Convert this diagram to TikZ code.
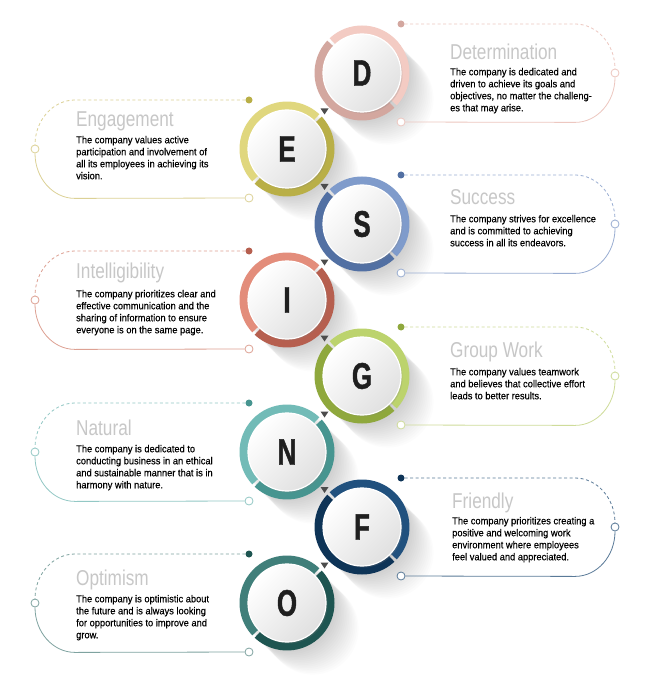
\documentclass[tikz,border=0pt]{standalone}
\usepackage{fontspec}
\setmainfont{Liberation Sans}
\newfontfamily\titlefont[FakeStretch=0.8]{Liberation Sans}
\newfontfamily\bodyfont[FakeStretch=0.93,FakeBold=0.4]{Liberation Sans}
\newfontfamily\letterfont[FakeStretch=0.7,FakeBold=1.2]{Liberation Sans}
\usepackage{xcolor}
\usepackage{tikz}
\usetikzlibrary{calc,positioning,shadows}

\definecolor{dLight}{HTML}{F3CBC3}\definecolor{dDark}{HTML}{D3A79F}\definecolor{dLine}{HTML}{EDC7C0}
\definecolor{eLight}{HTML}{E0D77E}\definecolor{eDark}{HTML}{B9AF47}\definecolor{eLine}{HTML}{DCD196}
\definecolor{sLight}{HTML}{7F9BCB}\definecolor{sDark}{HTML}{5270A3}\definecolor{sLine}{HTML}{9AAED2}
\definecolor{iLight}{HTML}{E38D7B}\definecolor{iDark}{HTML}{B65F4F}\definecolor{iLine}{HTML}{DDA193}
\definecolor{gLight}{HTML}{BCD36D}\definecolor{gDark}{HTML}{8FA83D}\definecolor{gLine}{HTML}{CFDC9A}
\definecolor{nLight}{HTML}{72BBB7}\definecolor{nDark}{HTML}{479590}\definecolor{nLine}{HTML}{93C8C5}
\definecolor{fLight}{HTML}{21517E}\definecolor{fDark}{HTML}{0E3457}\definecolor{fLine}{HTML}{5A7A98}
\definecolor{oLight}{HTML}{407F7A}\definecolor{oDark}{HTML}{1E5551}\definecolor{oLine}{HTML}{7FA3A0}

\begin{document}
\begin{tikzpicture}[x=1pt,y=1pt,
  letter/.style={circle,minimum size=78pt,inner sep=0pt,draw=white,line width=1.2pt,
    top color=white,bottom color=black!12,shading angle=45,
    drop shadow={opacity=0.22,shadow xshift=1.5pt,shadow yshift=-1.5pt},
    font=\letterfont\fontsize{37}{37}\selectfont\bfseries,text=black!88},
  fulldot/.style={circle,inner sep=0pt,minimum size=7pt},
  opendot/.style={circle,inner sep=0pt,minimum size=8pt,fill=white,line width=0.8pt},
  outline/.style={line width=0.8pt},
  title/.style={anchor=base west,inner sep=0pt,font=\titlefont\fontsize{21.5}{21.5}\selectfont,text=black!22},
  body/.style={anchor=north west,inner sep=0pt,align=left,font=\bodyfont\fontsize{10}{12}\selectfont,text=black},
  tip/.style={fill=black!70}]
  \fill[white] (0,0) rectangle (650,-700);
  \useasboundingbox (0,0) rectangle (650,-700);

  % long soft shadows
  \foreach \cx/\cy in {362/73,287/149,362/224,287/300,362/376,287/452,362/527,287/603}
    \foreach \k in {1,...,16}
      \fill[black,opacity=0.01] ({\cx+1.6*\k},{-\cy-1.6*\k}) circle (46);

  % rings and letters
  \foreach \nm/\cx/\cy/\ch/\cl/\sd in {d/362/73/D/d/0,e/287/149/E/e/90,s/362/224/S/s/0,i/287/300/I/i/90,
      g/362/376/G/g/0,n/287/452/N/n/90,f/362/527/F/f/0,o/287/603/O/o/90}{
    \fill[fill=\cl Light] (\cx,-\cy) -- +({\sd-43}:47.5) arc[start angle=\sd-43,end angle=\sd+133,radius=47.5] -- cycle;
    \fill[fill=\cl Dark] (\cx,-\cy) -- +({\sd+137}:47.5) arc[start angle=\sd+137,end angle=\sd+313,radius=47.5] -- cycle;
    \node[letter] (\nm) at (\cx,-\cy) {\ch};
  }

  % little arrow tips between the rings
  \foreach \a/\b in {d/e,e/s,s/i,i/g,g/n,n/f,f/o}
    \fill[tip] ($(\a)!0.5!(\b)$) ++(-4,2.5) -- ++(8,0) -- ++(-4,-6) -- cycle;

  % outlines on the right
  \foreach \nm/\cy in {d/73,s/224,g/376,f/527}{
    \node[fulldot,fill=\nm Dark] (\nm-top) at (401,-\cy+49) {};
    \node[opendot,draw=\nm Line] (\nm-end) at (615,-\cy) {};
    \node[opendot,draw=\nm Line] (\nm-bot) at (401,-\cy-49) {};
    \draw[outline,draw=\nm Line,dash pattern=on 3pt off 2.5pt] (\nm-top) -- ++(174,0)
      arc[start angle=90,end angle=0,x radius=40,y radius=45];
    \draw[outline,draw=\nm Line] (\nm-end.south) arc[start angle=0,end angle=-90,x radius=40,y radius=45] -- (\nm-bot);
  }

  % outlines on the left
  \foreach \nm/\cy in {e/149,i/300,n/452,o/603}{
    \node[fulldot,fill=\nm Dark] (\nm-top) at (249,-\cy+49) {};
    \node[opendot,draw=\nm Line] (\nm-end) at (35,-\cy) {};
    \node[opendot,draw=\nm Line] (\nm-bot) at (249,-\cy-49) {};
    \draw[outline,draw=\nm Line,dash pattern=on 3pt off 2.5pt] (\nm-top) -- ++(-174,0)
      arc[start angle=90,end angle=180,x radius=40,y radius=45];
    \draw[outline,draw=\nm Line] (\nm-end.south) arc[start angle=180,end angle=270,x radius=40,y radius=45] -- (\nm-bot);
  }

  % texts
  \node[title] (dtitle) at (450,-60) {Determination};
  \node[body] (dtext) at (450,-67.8) {The company is dedicated and\\driven to achieve its goals and\\objectives, no matter the challeng-\\es that may arise.};
  \node[title] (etitle) at (76,-127) {Engagement};
  \node[body] (etext) at (76,-135.8) {The company values active\\participation and involvement of\\all its employees in achieving its\\vision.};
  \node[title] (stitle) at (450,-205) {Success};
  \node[body] (stext) at (450,-214.8) {The company strives for excellence\\and is committed to achieving\\success in all its endeavors.};
  \node[title] (ititle) at (76,-278) {Intelligibility};
  \node[body] (itext) at (76,-289.8) {The company prioritizes clear and\\effective communication and the\\sharing of information to ensure\\everyone is on the same page.};
  \node[title] (gtitle) at (450,-357) {Group Work};
  \node[body] (gtext) at (450,-367.8) {The company values teamwork\\and believes that collective effort\\leads to better results.};
  \node[title] (ntitle) at (76,-435) {Natural};
  \node[body] (ntext) at (76,-444.8) {The company is dedicated to\\conducting business in an ethical\\and sustainable manner that is in\\harmony with nature.};
  \node[title] (ftitle) at (452,-508) {Friendly};
  \node[body] (ftext) at (452,-516.8) {The company prioritizes creating a\\positive and welcoming work\\environment where employees\\feel valued and appreciated.};
  \node[title] (otitle) at (76,-585) {Optimism};
  \node[body] (otext) at (76,-594.8) {The company is optimistic about\\the future and is always looking\\for opportunities to improve and\\grow.};
\end{tikzpicture}
\end{document}
